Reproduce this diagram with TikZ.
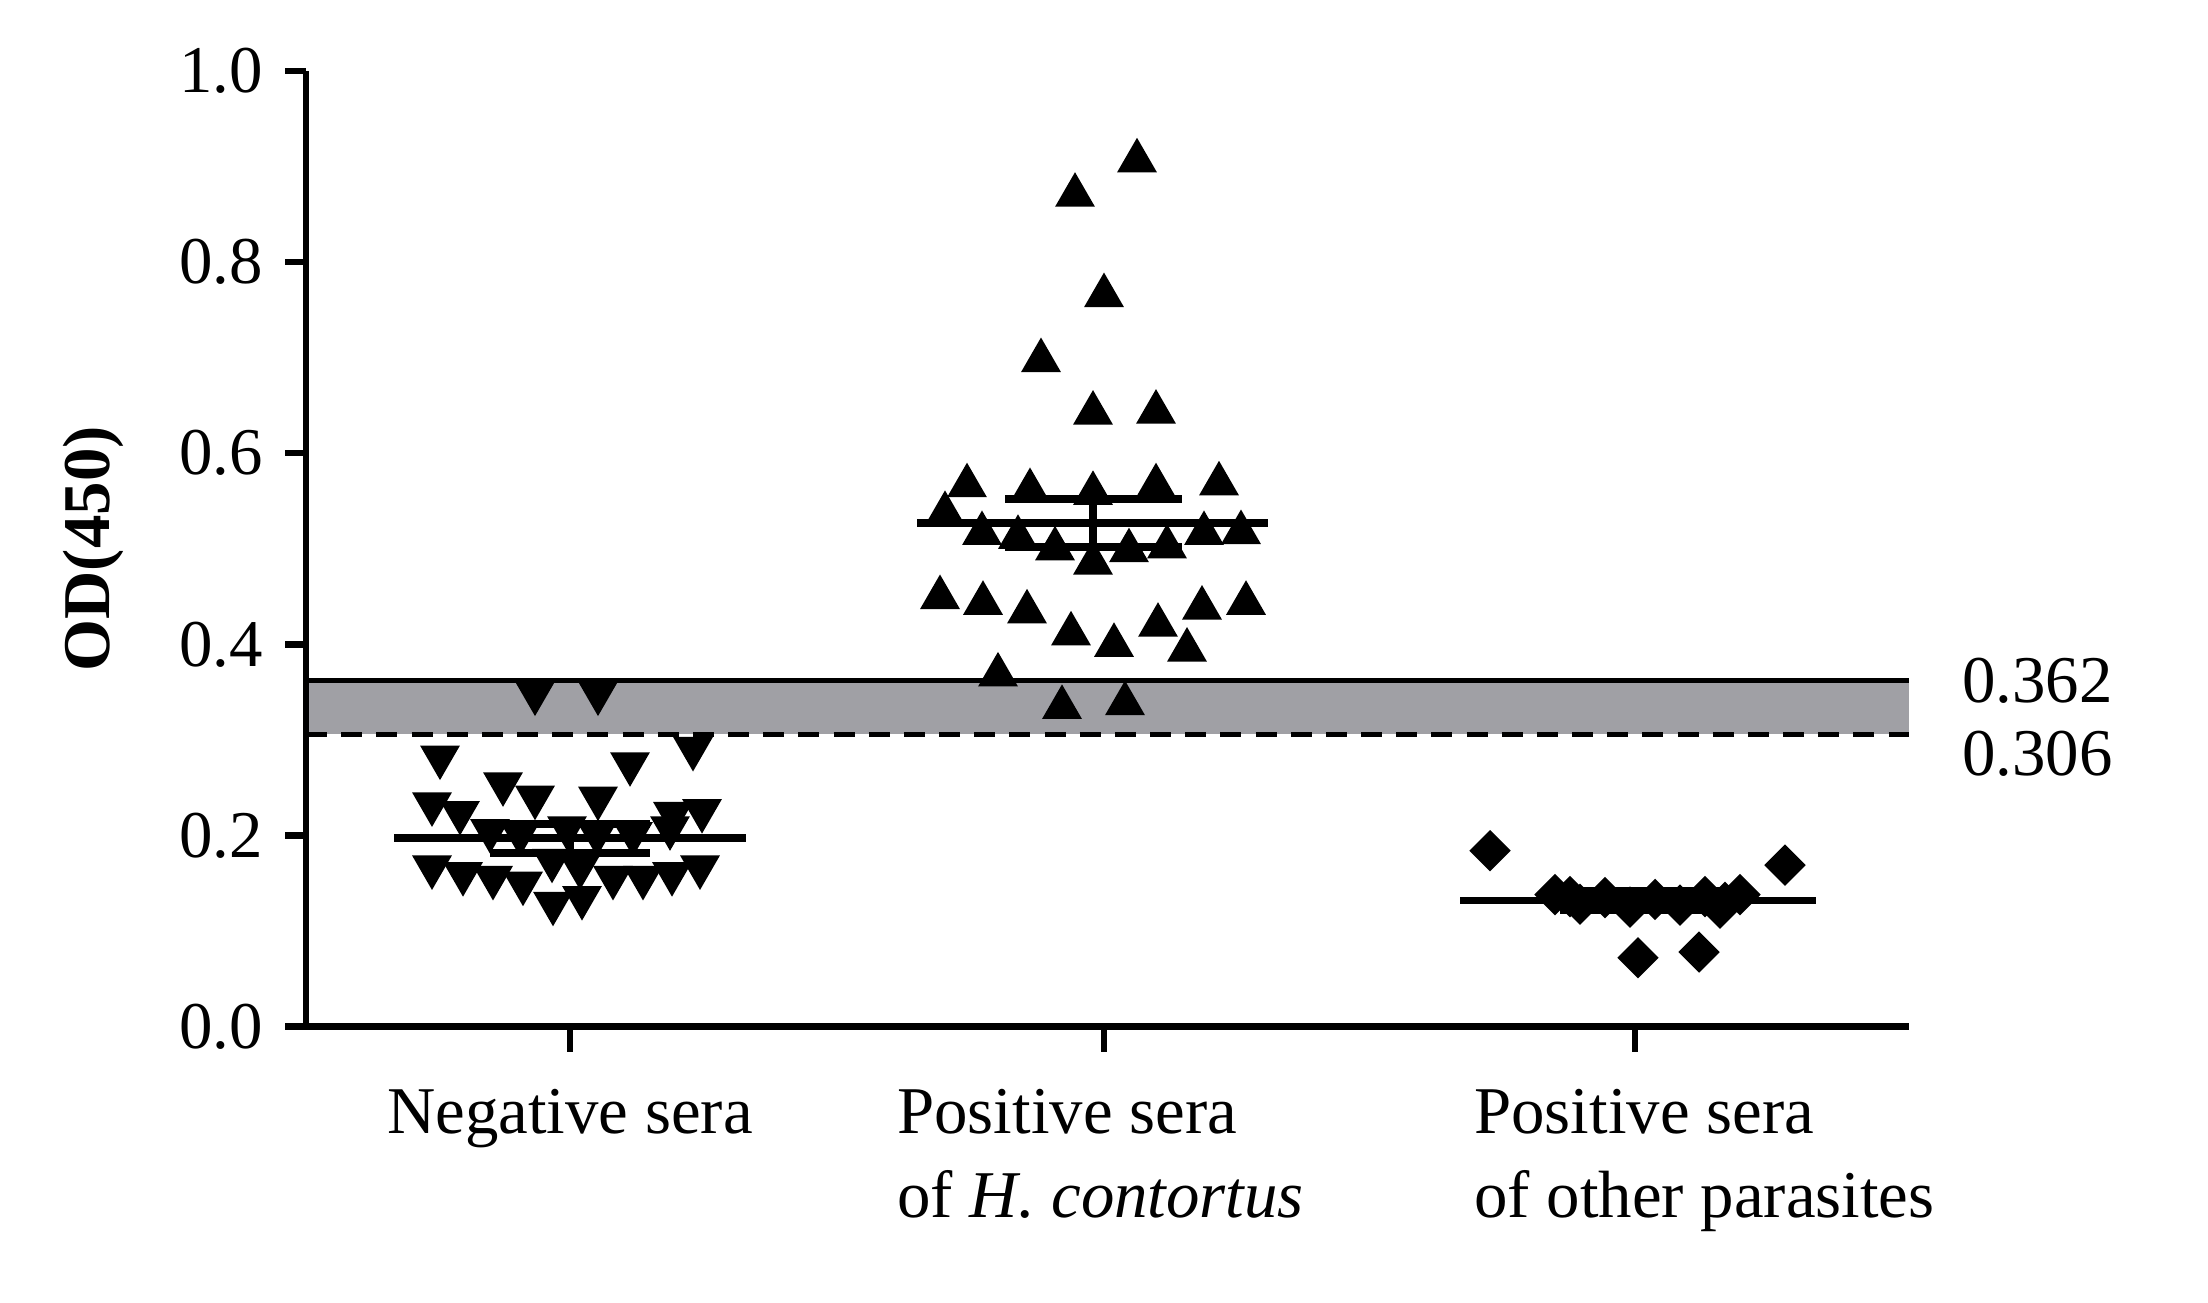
\documentclass[tikz,border=0pt]{standalone}
\usetikzlibrary{shapes.geometric}
\usepackage{fontspec}
\setmainfont{Liberation Serif}
\begin{document}
\begin{tikzpicture}[x=0.01cm,y=9.55cm,
  tu/.style={regular polygon,regular polygon sides=3,fill=black,inner sep=0pt,minimum size=0.46cm},
  td/.style={tu,shape border rotate=180},
  dm/.style={diamond,fill=black,inner sep=0pt,minimum size=0.42cm},
  ax/.style={line width=1.8pt},
  lab/.style={font=\fontsize{19}{23}\selectfont}]
\useasboundingbox (0,-0.289) rectangle (2208,1.0743);
% cutoff band
\fill[fill={rgb,255:red,160;green,160;blue,165}] (306,0.306) rectangle (1909,0.362);
\draw[line width=1.5pt] (306,0.362) -- (1909,0.362);
\draw[line width=1.5pt,dash pattern=on 6pt off 4pt] (306,0.306) -- (1909,0.306);
\node[lab,anchor=west] (c1) at (1950,0.362) {0.362};
\node[lab,anchor=west] (c2) at (1950,0.285) {0.306};
% negative
\foreach \x/\y [count=\i] in {535/.349,598/.349,440/.282,630/.275,693/.291,503/.254,535/.240,598/.239,432/.233,460/.224,702/.226,673/.223,490/.205,520/.202,567/.208,597/.202,633/.202,670/.208,432/.167,463/.160,493/.156,523/.150,553/.129,582/.135,613/.156,643/.156,672/.160,700/.167,552/.174,580/.167}
  \node[td] (n\i) at (\x,\y) {};
\draw[line width=2.2pt] (394,0.197) -- (746,0.197);
\draw[line width=2.2pt] (490,0.212) -- (650,0.212);
\draw[line width=2.2pt] (490,0.182) -- (650,0.182);
\draw[line width=2.2pt] (570,0.182) -- (570,0.212);
% positive
\foreach \x/\y [count=\i] in {1075/.870,1137/.906,1041/.697,1104/.765,1093/.642,1156/.643,967/.566,1030/.561,1156/.566,1219/.568,945/.537,1093/.558,982/.516,1018/.512,1055/.500,1093/.485,1129/.498,1167/.502,1204/.516,1241/.517,940/.449,983/.443,1027/.434,1071/.411,1114/.399,1158/.420,1202/.438,1246/.443,1187/.394,998/.368,1062/.334,1125/.338}
  \node[tu] (p\i) at (\x,\y) {};
\draw[line width=2.2pt] (917,0.527) -- (1268,0.527);
\draw[line width=2.2pt] (1005,0.552) -- (1182,0.552);
\draw[line width=2.2pt] (1005,0.502) -- (1182,0.502);
\draw[line width=2.2pt] (1093,0.502) -- (1093,0.552);
% other parasites
\foreach \x/\y [count=\i] in {1490/.184,1785/.169,1638/.072,1699/.078,1555/.138,1580/.128,1605/.135,1630/.125,1655/.133,1680/.127,1705/.136,1725/.130,1740/.138,1570/.136,1720/.124}
  \node[dm] (o\i) at (\x,\y) {};
\draw[line width=2.2pt] (1460,0.132) -- (1816,0.132);
\draw[line width=2.2pt] (1560,0.142) -- (1720,0.142);
\draw[line width=2.2pt] (1560,0.122) -- (1720,0.122);
% axes
\draw[ax] (306,1.0) -- (306,0) -- (1909,0);
\foreach \v in {0.0,0.2,0.4,0.6,0.8,1.0}{
  \draw[ax] (285,\v) -- (306,\v);
  \node[lab,anchor=east] (t\v) at (275,\v) {\v};}
\foreach \x in {570,1104,1635} \draw[ax] (\x,0) -- (\x,-0.027);
\node[lab,font=\fontsize{19}{23}\selectfont\bfseries,rotate=90] (yl) at (93,0.5) {OD(450)};
\node[lab,anchor=base] (g1) at (570,-0.112) {Negative sera};
\node[lab,anchor=base west,align=left] (g2) at (885,-0.112) {Positive sera};
\node[lab,anchor=base west] (g2b) at (885,-0.2) {of \textit{H. contortus}};
\node[lab,anchor=base west] (g3) at (1462,-0.112) {Positive sera};
\node[lab,anchor=base west] (g3b) at (1462,-0.2) {of other parasites};
\end{tikzpicture}
\end{document}
